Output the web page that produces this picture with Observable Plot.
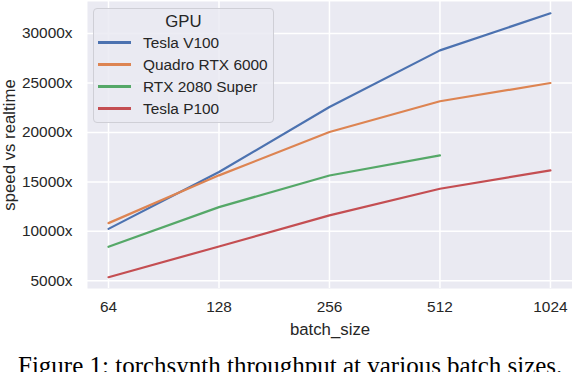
<!DOCTYPE html>
<html>
<head>
<meta charset="utf-8">
<script src="https://cdn.jsdelivr.net/npm/d3@7"></script>
<script src="https://cdn.jsdelivr.net/npm/@observablehq/plot@0.6"></script>
<style>
  html, body { margin: 0; padding: 0; background: #fff; }
  #wrap { position: relative; width: 572px; height: 372px; overflow: hidden; }
  #legend {
    position: absolute; left: 93px; top: 8px; width: 181px; height: 115px;
    border: 1px solid #cfcfd6; border-radius: 4px; background: rgba(234,234,242,0.85);
    font-family: "Liberation Sans", Arial, sans-serif; font-size: 15.4px; color: #262626;
    box-sizing: border-box;
  }
  #legend .title { text-align: center; margin-top: 1.5px; height: 21px; line-height: 21px; font-size: 16.8px; }
  #legend .row { display: flex; align-items: center; height: 22px; line-height: 22px; }
  #legend .sw { width: 33px; height: 2.2px; margin-left: 4px; margin-right: 12px; }
  #caption {
    position: absolute; left: 18px; top: 352.5px; white-space: nowrap;
    font-family: "Liberation Serif", "Times New Roman", serif; font-size: 25px; line-height: 25px; color: #000;
  }
</style>
</head>
<body>
<div id="wrap">
  <div id="chart"></div>
  <div id="legend"></div>
  <div id="caption">Figure 1: torchsynth throughput at various batch sizes.</div>
</div>
<script>
const batchSizes = [64, 128, 256, 512, 1024];
const gpus = ["Tesla V100", "Quadro RTX 6000", "RTX 2080 Super", "Tesla P100"];
const colors = ["#4c72b0", "#dd8452", "#55a868", "#c44e52"];
const teslaV100 = [10250, 16000, 22570, 28300, 32050];
const quadroRTX6000 = [10830, 15660, 20040, 23150, 25000];
const rtx2080Super = [8440, 12450, 15650, 17680, null];
const teslaP100 = [5360, 8470, 11610, 14310, 16160];
const yTicks = [5000, 10000, 15000, 20000, 25000, 30000];

const seriesValues = [teslaV100, quadroRTX6000, rtx2080Super, teslaP100];
const data = [];
gpus.forEach((g, i) => {
  batchSizes.forEach((b, j) => {
    const v = seriesValues[i][j];
    if (v != null) data.push({gpu: g, batch: b, speed: v});
  });
});

const font = "'Liberation Sans', Arial, sans-serif";
const textColor = "#262626";

const chart = Plot.plot({
  width: 572,
  height: 345,
  marginLeft: 87,
  marginRight: 0,
  marginTop: 1,
  marginBottom: 57,
  style: {fontFamily: font, fontSize: "15.4px", color: textColor, background: "transparent", overflow: "visible"},
  x: {type: "log", base: 2, domain: [56.1, 1176]},
  y: {domain: [4220, 33240]},
  color: {domain: gpus, range: colors},
  marks: [
    Plot.frame({fill: "#eaeaf2", stroke: null}),
    Plot.gridX(batchSizes, {stroke: "#ffffff", strokeOpacity: 1, strokeWidth: 1.5}),
    Plot.gridY(yTicks, {stroke: "#ffffff", strokeOpacity: 1, strokeWidth: 1.5}),
    Plot.axisX(batchSizes, {tickSize: 0, tickPadding: 13, tickFormat: d => String(d), label: null, fontSize: 15.4, fill: textColor}),
    Plot.axisY(yTicks, {tickSize: 0, tickPadding: 15, tickFormat: d => d + "x", label: null, fontSize: 15.4, fill: textColor}),
    Plot.line(data, {x: "batch", y: "speed", z: "gpu", stroke: "gpu", strokeWidth: 2.2, curve: "linear"}),
    Plot.text(["batch_size"], {frameAnchor: "bottom", dy: 41.5, lineAnchor: "middle", fontSize: 16.8, fill: textColor}),
    Plot.text(["speed vs realtime"], {frameAnchor: "left", dx: -77.5, rotate: -90, lineAnchor: "middle", textAnchor: "middle", fontSize: 16.8, fill: textColor})
  ]
});
document.getElementById("chart").appendChild(chart);

const legend = document.getElementById("legend");
const t = document.createElement("div");
t.className = "title";
t.textContent = "GPU";
legend.appendChild(t);
gpus.forEach((g, i) => {
  const row = document.createElement("div");
  row.className = "row";
  const sw = document.createElement("div");
  sw.className = "sw";
  sw.style.background = colors[i];
  const lab = document.createElement("span");
  lab.textContent = g;
  row.appendChild(sw);
  row.appendChild(lab);
  legend.appendChild(row);
});
</script>
</body>
</html>
